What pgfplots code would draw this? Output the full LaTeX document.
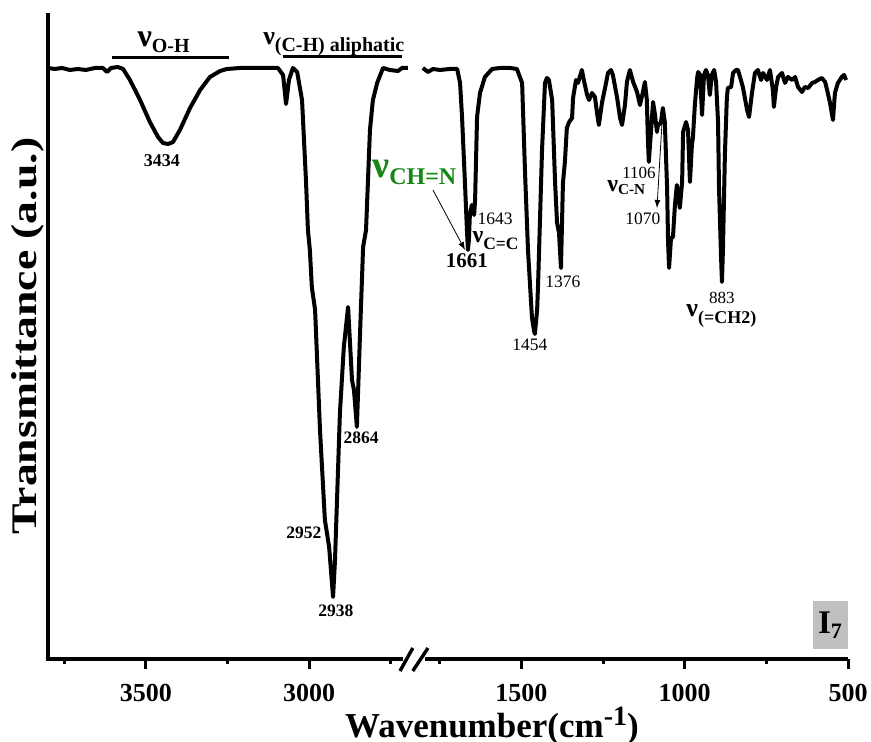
\documentclass[border=0pt]{standalone}
\usepackage{fontspec}
\setmainfont{Liberation Serif}
\usepackage{graphicx}
\usepackage{pgfplots}
\pgfplotsset{compat=1.18}
\usepackage{pgfplotstable}
\definecolor{vgreen}{RGB}{22,135,22}
\definecolor{boxgray}{RGB}{192,192,192}
\newcommand\fs[1]{\fontsize{#1}{#1}\selectfont}
% nu label: size of nu, size of subscript, drop of subscript, subscript text
\newcommand\vib[4]{{\fs{#1}\bfseries ν}\raisebox{-#3}{\fs{#2}\bfseries #4}}

% high wavenumber part (3800-2700), plotted shifted by -850
\pgfplotstableread{
w t
3800 591
3779 590
3757 591
3733 589
3708 590
3684 589
3656 591
3632 591
3619 587
3607 591
3586 592
3570 590
3549 579
3518 559
3488 537
3463 522
3448 516
3432 515
3417 517
3396 529
3365 551
3334 569
3304 582
3273 588
3252 590
3212 591
3151 591
3096 591
3080 584
3071 555
3062 579
3050 591
3037 587
3022 559
3010 479
3004 429
2998 409
2992 372
2982 349
2967 229
2952 139
2939 112
2927 62
2921 99
2906 246
2894 312
2881 352
2869 279
2863 269
2854 232
2844 329
2835 412
2826 429
2814 529
2805 559
2792 576
2774 591
2753 589
2728 588
2716 591
2698 591
}\hightab

% fingerprint part (1800-500)
\pgfplotstableread{
w t
1802 591
1786 587
1771 590
1750 589
1719 590
1697 590
1688 576
1682 542
1673 476
1667 429
1664 409
1661 419
1658 444
1652 454
1645 444
1642 459
1636 542
1627 566
1612 582
1590 590
1566 591
1535 591
1514 590
1498 576
1489 486
1480 409
1468 342
1462 329
1459 325
1452 349
1449 376
1437 509
1428 576
1422 581
1416 579
1406 559
1397 476
1391 436
1385 426
1379 391
1373 476
1367 497
1361 531
1354 537
1345 541
1342 561
1333 579
1327 576
1315 589
1309 579
1299 564
1293 559
1284 566
1275 562
1269 547
1263 534
1253 557
1244 571
1235 586
1226 589
1220 584
1207 561
1198 541
1192 534
1183 554
1177 577
1168 589
1158 577
1146 567
1137 554
1128 567
1122 577
1116 559
1113 521
1110 497
1103 529
1097 557
1091 544
1085 527
1082 534
1073 536
1067 551
1061 537
1054 471
1051 417
1048 391
1042 421
1036 422
1030 454
1024 474
1015 451
1008 477
1005 527
996 537
990 529
984 477
978 514
975 521
969 554
962 581
959 587
953 584
947 544
941 584
935 589
929 584
923 564
917 584
910 589
904 577
898 537
895 471
889 404
886 377
883 409
877 504
871 561
868 571
858 572
852 586
843 589
837 589
828 579
822 572
809 549
803 542
794 566
785 586
776 589
766 579
760 586
748 579
739 589
730 569
727 552
720 572
714 582
702 586
693 576
684 582
671 579
662 582
653 572
641 567
632 572
622 571
610 576
601 577
592 579
580 581
570 577
564 569
555 556
546 539
540 566
531 576
519 582
512 584
506 579
}\lowtab

\begin{document}
\begin{tikzpicture}
\begin{axis}[name=ax, scale only axis, width=400pt, height=323pt,
  xmin=500, xmax=2950, ymin=0, ymax=646, x dir=reverse,
  axis line style={draw=none}, clip=false,
  xtick={500,1000,1500,2150,2650}, xticklabels={500,1000,1500,3000,3500},
  minor xtick={750,1250,1750,1900,2400,2900},
  xtick pos=left, ytick=\empty,
  tick align=outside, major tick length=5pt, minor tick length=2.5pt,
  every tick/.style={black, line width=1.5pt},
  /pgf/number format/assume math mode=true,
  xticklabel style={font=\fs{13}\bfseries, yshift=-4pt},
  xlabel={Wavenumber(cm\raisebox{0.75ex}{\fs{14}-1})},
  xlabel style={font=\fs{17.5}\bfseries, at={(axis description cs:0.555,-0.121)}, anchor=base},
  ylabel={\scalebox{1.27}[1]{Transmittance (a.u.)}},
  ylabel style={font=\fs{18}\bfseries, at={(axis description cs:-0.025,0.5)}, anchor=center},
]
\addplot[black, line width=2pt, line join=round] table[x expr=\thisrow{w}-850, y=t]{\hightab};
\addplot[black, line width=2pt, line join=round] table[x=w, y=t]{\lowtab};

% spines with axis break
\draw[line width=2pt, line cap=butt] (axis description cs:0,1) -- (axis description cs:0,0) -- (axis description cs:0.444,0);
\draw[line width=2pt] (axis description cs:0.471,0) -- (axis description cs:1,0);
\draw[line width=1.7pt] (axis description cs:0.440,-0.0186) -- (axis description cs:0.456,0.017);
\draw[line width=1.7pt] (axis description cs:0.456,-0.0186) -- (axis description cs:0.475,0.017);

% band labels
\node[anchor=base west, inner sep=0] at (axis cs:2677,612) {\vib{16}{10}{3pt}{O-H}};
\draw[line width=1.5pt] (axis cs:2754,601) -- (axis cs:2396,601);
\node[anchor=base west, inner sep=0] at (axis cs:2292,614) {\vib{13}{10}{3.5pt}{(C-H) aliphatic}};
\draw[line width=1.5pt] (axis cs:2230,602) -- (axis cs:1866,602);
\node[anchor=base west, inner sep=0, text=vgreen] at (axis cs:1958,481) {\vib{19}{12}{3.5pt}{CH=N}};
\draw[-latex, thin] (axis cs:1771,469) -- (axis cs:1673,409);
\node[anchor=base west, inner sep=0] at (axis cs:1651,416) {\vib{12}{8.7}{3.5pt}{C=C}};
\node[anchor=base west, inner sep=0] at (axis cs:1238,467) {\vib{12}{7.6}{1.5pt}{C-N}};
\draw[-latex, thin] (axis cs:1070,534) -- (axis cs:1085,451);
\node[anchor=base west, inner sep=0] at (axis cs:996,342) {\vib{13}{9}{3.5pt}{(=CH2)}};

% peak numbers
\begin{scope}[every node/.style={inner sep=0.5pt}]
\node[font=\fs{9}\bfseries] at (axis cs:2601,498) {3434};
\node[font=\fs{8.75}\bfseries] at (axis cs:1991,221) {2864};
\node[font=\fs{8.75}\bfseries] at (axis cs:2166,126) {2952};
\node[font=\fs{8.75}\bfseries] at (axis cs:2068,48) {2938};
\node[font=\fs{10.5}\bfseries] at (axis cs:1667,398) {1661};
\node[font=\fs{8.75}] at (axis cs:1581,440) {1643};
\node[font=\fs{8.75}] at (axis cs:1474,314) {1454};
\node[font=\fs{8.75}] at (axis cs:1373,377) {1376};
\node[font=\fs{8.5}] at (axis cs:1140,486) {1106};
\node[font=\fs{8.75}] at (axis cs:1128,440) {1070};
\node[font=\fs{8.5}] at (axis cs:886,361) {883};
\end{scope}

\node[fill=boxgray, minimum width=17.5pt, minimum height=24pt, inner sep=0pt, font=\fs{16.5}\bfseries] at (axis cs:555,34) {I\raisebox{-0.35ex}{\fs{11}7}};
\end{axis}
\pgfresetboundingbox
\path ([shift={(-24pt,-41.5pt)}]ax.south west) rectangle ([shift={(11.5pt,6.5pt)}]ax.north east);
\end{tikzpicture}
\end{document}
